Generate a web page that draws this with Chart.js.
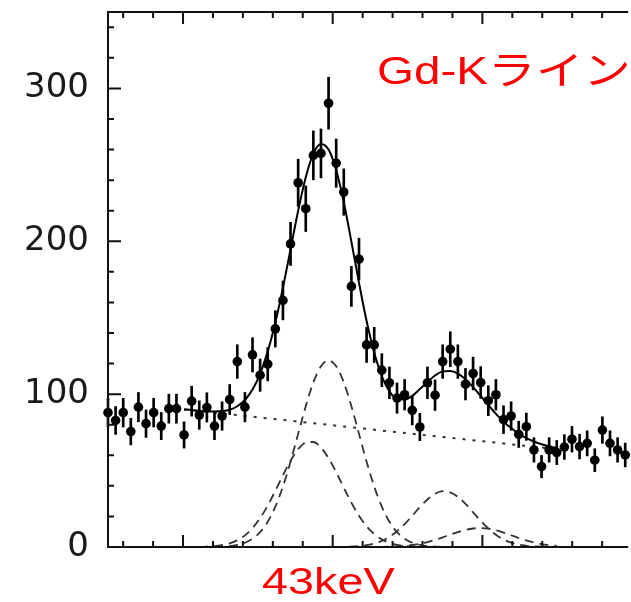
<!DOCTYPE html>
<html>
<head>
<meta charset="utf-8">
<script src="https://cdn.jsdelivr.net/npm/chart.js@4.4.1/dist/chart.umd.min.js"></script>
<style>
html,body{margin:0;padding:0;background:#fff;overflow:hidden}
#wrap{width:631px;height:602px;position:relative}
canvas{display:block}
</style>
</head>
<body>
<div id="wrap"><canvas id="c" width="631" height="602"></canvas></div>
<script>
// ---- data ----
const channels = [0,1,2,3,4,5,6,7,8,9,10,11,12,13,14,15,16,17,18,19,20,21,22,23,24,25,26,27,28,29,30,31,32,33,34,35,36,37,38,39,40,41,42,43,44,45,46,47,48,49,50,51,52,53,54,55,56,57,58,59,60,61,62,63,64,65,66,67,68];
const counts = [87.9,82.8,87.9,75.5,91.5,80.7,87.9,79.1,90.5,90.5,
  73.3,95.4,86.3,91.3,79.1,85.7,96.5,121.3,91.5,125.7,
  112.4,119.6,142.7,161.3,198.3,238.3,221.3,256.2,257.5,290.3,
  251.1,232.2,170.5,188.3,132.2,132.2,115.7,107.4,97.4,99.6,
  89.4,78.5,107.4,99.3,121.3,129.4,121.3,106.5,113.5,107.6,
  95.7,99.6,83.3,85.7,73.7,78.7,63.5,52.6,63.5,61.8,
  65.4,70.5,65.7,67.8,56.8,76.5,67.8,63.5,60.2];
const errors = [9.4,9.1,9.4,8.7,9.6,9.0,9.4,8.9,9.5,9.5,
  8.6,9.8,9.3,9.6,8.9,9.3,9.8,11.0,9.6,11.2,
  10.6,10.9,11.9,12.7,14.1,15.4,14.9,16.0,16.0,17.0,
  15.8,15.2,13.1,13.7,11.5,11.5,10.8,10.4,9.9,10.0,
  9.5,8.9,10.4,10.0,11.0,11.4,11.0,10.3,10.7,10.4,
  9.8,10.0,9.1,9.3,8.6,8.9,8.0,7.3,8.0,7.9,
  8.1,8.4,8.1,8.2,7.5,8.7,8.2,8.0,7.8];

const fitChannels = [10,11,12,13,14,15,16,17,18,19,20,21,22,23,24,25,26,27,28,29,30,31,32,33,34,35,36,37,38,39,40,41,42,43,44,45,46,47,48,49,50,51,52,53,54,55,56,57,58,59];
const fitTotal = [90.0,89.6,89.0,88.7,88.6,88.9,89.8,92.1,96.2,103.0,
  113.3,127.8,146.8,169.6,194.8,220.0,241.9,257.4,263.7,260.0,
  246.6,225.5,199.7,172.8,147.8,127.2,111.7,101.8,96.9,96.5,
  98.9,103.3,107.9,112.2,114.9,115.2,113.5,109.8,104.6,98.8,
  92.9,87.1,82.0,77.8,74.1,71.2,69.0,67.2,65.8,64.7];
const peakA = [0,0,0,0,0.1,0.3,0.6,1.4,2.8,5.4,
  9.7,16.5,26.4,39.6,55.8,74.0,92.1,107.7,118.2,122.0,
  118.2,107.7,92.1,74.0,55.8,39.6,26.4,16.5,9.7,5.4,
  2.8,1.4,0.6,0.3,0.1,0,0,0,0,0,
  0,0,0,0,0,0,0,0,0,0];
const peakB = [0,0.05,0.1,0.3,0.6,1.3,2.4,4.4,7.6,12.4,
  18.9,27.1,36.8,46.9,56.4,64.0,68.3,68.7,65.1,58.1,
  48.9,38.8,29.0,20.4,13.5,8.5,5.0,2.8,1.4,0.7,
  0.3,0.1,0,0,0,0,0,0,0,0,
  0,0,0,0,0,0,0,0,0,0];
const peakC = [0,0,0,0,0,0,0,0,0,0,
  0,0,0,0,0,0,0,0,0,0,
  0.05,0.1,0.3,0.6,1.2,2.3,4.0,6.6,10.3,15.0,
  20.4,26.1,31.1,34.8,36.5,35.7,32.8,28.2,22.7,17.1,
  12.1,8.0,4.9,2.9,1.5,0.8,0.4,0.2,0.1,0.0];
const peakD = [0,0,0,0,0,0,0,0,0,0,
  0,0,0,0,0,0,0,0,0,0,
  0,0,0,0,0,0.05,0.1,0.2,0.4,0.8,
  1.3,2.1,3.2,4.6,6.3,8.1,9.8,11.2,12.1,12.4,
  12.0,10.9,9.4,7.7,5.9,4.3,3.0,1.9,1.2,0.7];
const bgChannels = [10,59];
const bgValues = [90,64];

const yTickValues = [0,100,200,300];
const yMinorStep = 20;
const titleText = 'Gd-Kライン';
const energyText = '43keV';

// ---- helpers ----
const pts = (xs, ys) => xs.map((x,i) => ({x:x, y:ys[i]}));

const framePlugin = {
  id: 'frame',
  afterDatasetsDraw(chart) {
    const {ctx, chartArea:a, scales} = chart;
    const xt = scales.xt, y = scales.y;
    ctx.save();
    ctx.strokeStyle = '#111';
    ctx.lineWidth = 2;
    ctx.beginPath();
    ctx.moveTo(a.left, a.top - 1); ctx.lineTo(a.left, a.bottom + 1);
    ctx.moveTo(a.left - 1, a.bottom); ctx.lineTo(a.right + 2, a.bottom);
    ctx.moveTo(a.left - 1, a.top); ctx.lineTo(a.right + 2, a.top);
    for (let v = 0; v <= y.max; v += yMinorStep) {
      const py = y.getPixelForValue(v);
      const len = (v % 100 === 0) ? 13 : 6;
      ctx.moveTo(a.left, py); ctx.lineTo(a.left + len, py);
    }
    for (let t = Math.ceil(xt.min); t <= xt.max; t++) {
      const px = xt.getPixelForValue(t);
      const len = (t % 5 === 0) ? 12 : 6;
      ctx.moveTo(px, a.bottom); ctx.lineTo(px, a.bottom - len);
      ctx.moveTo(px, a.top); ctx.lineTo(px, a.top + len);
    }
    ctx.stroke();
    ctx.restore();
  }
};

const labelPlugin = {
  id: 'labels',
  afterDraw(chart) {
    const ctx = chart.ctx;
    ctx.save();
    ctx.fillStyle = '#ff0000';
    ctx.textBaseline = 'alphabetic';
    ctx.textAlign = 'left';
    ctx.font = "39px 'Liberation Sans', 'Noto Sans CJK JP', sans-serif";
    ctx.save(); ctx.translate(377, 83.5); ctx.scale(1.22, 1); ctx.fillText(titleText, 0, 0); ctx.restore();
    ctx.font = "36px 'Liberation Sans', sans-serif";
    ctx.save(); ctx.translate(262, 593.5); ctx.scale(1.3, 1); ctx.fillText(energyText, 0, 0); ctx.restore();
    ctx.restore();
  }
};

const compStyle = {type:'line', borderColor:'#333', borderWidth:1.8, borderDash:[9,6], pointRadius:0, cubicInterpolationMode:'monotone', fill:false, order:3};

new Chart(document.getElementById('c'), {
  type: 'scatter',
  data: {
    datasets: [
      {type:'scatter', label:'counts', data: pts(channels, counts), pointRadius:4.8, pointBackgroundColor:'#000', pointBorderColor:'#000', pointBorderWidth:0, clip:false, order:0},
      {type:'bar', label:'errors', data: channels.map((c,i) => ({x:c, y:[counts[i]-errors[i], counts[i]+errors[i]]})), backgroundColor:'#000', barThickness:2, clip:false, order:1},
      {type:'line', label:'fit', data: pts(fitChannels, fitTotal), borderColor:'#000', borderWidth:2, pointRadius:0, cubicInterpolationMode:'monotone', fill:false, order:2},
      Object.assign({label:'A', data: pts(fitChannels, peakA)}, compStyle),
      Object.assign({label:'B', data: pts(fitChannels, peakB)}, compStyle),
      Object.assign({label:'C', data: pts(fitChannels, peakC)}, compStyle),
      Object.assign({label:'D', data: pts(fitChannels, peakD)}, compStyle),
      {type:'line', label:'background', data: pts(bgChannels, bgValues), borderColor:'#333', borderWidth:2, borderDash:[3,7], pointRadius:0, fill:false, order:3}
    ]
  },
  options: {
    responsive: false,
    animation: false,
    devicePixelRatio: 1,
    layout: {padding: {top:12, bottom:55, left:0, right:0}},
    plugins: {legend:{display:false}, tooltip:{enabled:false}, title:{display:false}},
    scales: {
      x: {type:'linear', min:0, max:68.13, display:false, offset:false},
      xt: {type:'linear', axis:'x', position:'bottom', min:2.494, max:19.804, display:false},
      y: {
        type:'linear', min:0, max:350, position:'left',
        afterBuildTicks: s => { s.ticks = yTickValues.map(v => ({value:v})); },
        afterFit: s => { s.width = 108; s.paddingTop = 0; s.paddingBottom = 0; },
        grid: {display:false, drawTicks:false},
        border: {display:false},
        ticks: {font:{family:"'DejaVu Sans', sans-serif", size:34}, color:'#1a1a1a', padding:19}
      }
    }
  },
  plugins: [framePlugin, labelPlugin]
});
</script>
</body>
</html>
